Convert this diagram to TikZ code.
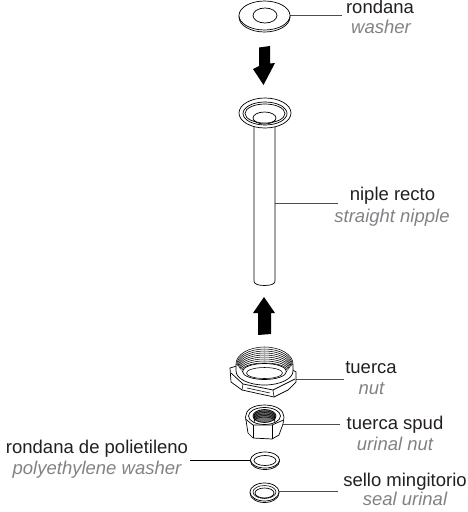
\documentclass[tikz,border=0pt]{standalone}
\usepackage{fontspec}
\setmainfont{Liberation Sans}
\definecolor{lab}{HTML}{231F20}
\definecolor{tr}{HTML}{808285}
\tikzset{
  es/.style={font=\fontsize{18.5}{20}\selectfont,text=lab,inner sep=0pt,anchor=base},
  en/.style={font=\fontsize{18.5}{20}\selectfont\itshape,text=tr,inner sep=0pt,anchor=base},
  part/.style={draw=black,line width=0.7pt,fill=white},
  thin part/.style={draw=black,line width=0.55pt},
  leader/.style={draw=black!70,line width=0.8pt},
  dark leader/.style={draw=black,line width=0.8pt},
  blockarrow/.style={fill=black,draw=none}
}
\begin{document}
\begin{tikzpicture}[x=1pt,y=-1pt]
\useasboundingbox (0,0) rectangle (468,512);
% leaders first, parts sit on top
\coordinate (w) at (285,15);
\coordinate (n) at (275,203);
\coordinate (t) at (290,379);
\coordinate (h) at (280,424);
\coordinate (p) at (255,460);
\coordinate (s) at (275,491);
\coordinate (w2) at (342,15);
\coordinate (n2) at (338,203);
\coordinate (t2) at (344,379);
\coordinate (h2) at (340,424);
\coordinate (p2) at (190,460);
\coordinate (s2) at (338,491);
\draw[leader] (w) -- (w2);
\draw[leader] (n) -- (n2);
\draw[leader] (t) -- (t2);
\draw[leader] (h) -- (h2);
\draw[dark leader] (p) -- (p2);
\draw[leader] (s) -- (s2);
% washer
\draw[part] (264.5,17) ellipse (25.5 and 15);
\draw[part] (264.5,15.5) ellipse (25.5 and 14.5);
\draw[part] (265,15.5) ellipse (12 and 7.5);
% down arrow
\fill[blockarrow] (259,47.5)--(270,46)--(270,63.5)--(275,63)--(263.5,85)--(253,69)--(259,66)--cycle;
% tube
\draw[part] (254,125) -- (254,281) .. controls (254,284) and (258,285.5) .. (264.5,285.5) .. controls (271,285.5) and (275,284) .. (275,281) -- (275,125);
% flange
\draw[part] (265,113) ellipse (26 and 15);
\draw[part] (265,113.5) ellipse (22 and 11.5);
\draw[part] (265,113.5) ellipse (20 and 9.5);
\draw[part] (264.5,118) ellipse (11.5 and 6);
\draw[thin part] (254,120) arc (180:0:10.5 and 3);
% up arrow
\fill[blockarrow] (264,297)--(275,313)--(271,313)--(271,334)--(258,335)--(258,313)--(253,313)--cycle;
% nut: hex flange
\draw[part] (230,368) -- (231,382) -- (242,390) -- (274,397) -- (288,390) -- (296,382) -- (296,372) -- (285,365) -- (240,365) -- cycle;
\draw[part] (231,373) -- (243,384) -- (273,390) -- (295,379);
\draw[thin part] (243,384) -- (242,390) (273,390) -- (274,397);
\draw[thin part] (247,388) -- (270,393);
% nut: threaded ring
\fill[white] (236,364) -- (236,371) arc (180:0:28.5 and 14) -- (293,364) arc (360:180:28.5 and 17) -- cycle;
\draw[part,fill=none] (236,364) -- (236,371) arc (180:0:28.5 and 14) -- (293,364);
\foreach \k in {0,...,8} {\draw[thin part] ({236+0.7*\k},{364+0.8*\k}) arc (180:360:{28.5-0.7*\k} and {17-1.2*\k});}
\draw[part,fill=white] (264.5,371.5) ellipse (22 and 8);
\draw[thin part] (264.5,373) ellipse (18 and 5.5);
% hex nut
\draw[part] (245.5,417) .. controls (245.5,410) and (253,405) .. (264.5,405) .. controls (276,405) and (284,410) .. (284,417) -- (283,424) -- (279,435) -- (272,439) -- (253,438) -- (248,433) -- cycle;
\draw[part] (245.5,419) -- (253,425) -- (272,425) -- (283.5,420);
\draw[part] (253,425) -- (253,438) (272,425) -- (272,439);
\draw[part] (264.5,416) ellipse (16 and 8.5);
\draw[part,fill=black!55] (264.5,416) ellipse (11.5 and 6.5);
\foreach \d in {-1,0.5,2,3.5,5} {\draw[thin part] (254,417+\d) arc (180:360:10.5 and 5);}
% poly washer
\draw[part] (265,461) ellipse (14.5 and 8.5);
\draw[part] (265,460) ellipse (14.5 and 8);
\draw[part] (265,460.5) ellipse (11 and 5);
% seal
\draw[part] (264.5,493) ellipse (14.5 and 9.5);
\draw[part] (264.5,492) ellipse (14.5 and 9);
\draw[part] (264.5,493) ellipse (9.5 and 5);
\draw[thin part] (264.5,492) ellipse (11.5 and 6.5);
% labels
\node[es] (l1) at (380,13.5) {rondana};
\node[en] (l1e) at (381,33) {washer};
\node[es] (l2) at (392.5,200.7) {niple recto};
\node[en] (l2e) at (392,222) {straight nipple};
\node[es] (l3) at (371,373) {tuerca};
\node[en] (l3e) at (371.5,394) {nut};
\node[es] (l4) at (395,429) {tuerca spud};
\node[en] (l4e) at (395,450) {urinal nut};
\node[es] (l5) at (97,453) {rondana de polietileno};
\node[en] (l5e) at (97,474) {polyethylene washer};
\node[es] (l6) at (405,486) {sello mingitorio};
\node[en] (l6e) at (405,505) {seal urinal};
\end{tikzpicture}
\end{document}
